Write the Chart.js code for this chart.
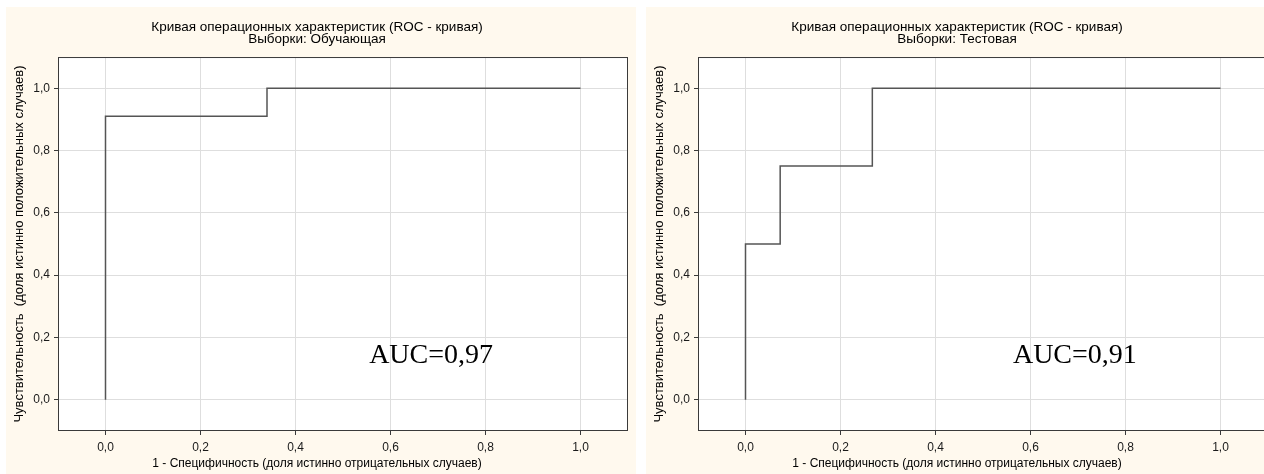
<!DOCTYPE html>
<html>
<head>
<meta charset="utf-8">
<script src="https://cdn.jsdelivr.net/npm/chart.js@4/dist/chart.umd.min.js"></script>
<style>
    body { margin: 0; width: 1264px; height: 474px; overflow: hidden; background: #fff; position: relative; }
    .panel { position: absolute; top: 7px; width: 630px; height: 467px; background: #fff9ee; }
    #leftPanel { left: 6px; }
    #rightPanel { left: 646px; }
</style>
</head>
<body>
<div class="panel" id="leftPanel"><canvas id="trainChart" width="630" height="467"></canvas></div>
<div class="panel" id="rightPanel"><canvas id="testChart" width="630" height="467"></canvas></div>
<script>
// ROC points (1 - specificity, sensitivity), drawn as steps
const trainFpr = [0, 0, 0.34, 1];
const trainTpr = [0, 0.91, 1, 1];
const testFpr = [0, 0, 0.073, 0.267, 1];
const testTpr = [0, 0.5, 0.75, 1, 1];

const xTicks = [0, 0.2, 0.4, 0.6, 0.8, 1.0];
const yTicks = [0, 0.2, 0.4, 0.6, 0.8, 1.0];

const chartTitle = 'Кривая операционных характеристик (ROC - кривая)';
const xTitle = '1 - Специфичность (доля истинно отрицательных случаев)';
const yTitle = 'Чувствительность  (доля истинно положительных случаев)';

Chart.defaults.font.family = '"Liberation Sans", Arial, sans-serif';
Chart.defaults.font.size = 12;
Chart.defaults.color = '#1a1a1a';

const fmt = v => v.toFixed(1).replace('.', ',');

// white plot area, box border and AUC label
const plotFrame = {
    id: 'plotFrame',
    beforeDraw(chart) {
        const { ctx, chartArea: a } = chart;
        ctx.save();
        ctx.fillStyle = '#ffffff';
        ctx.fillRect(a.left, a.top, a.right - a.left, a.bottom - a.top);
        ctx.restore();
    },
    afterDraw(chart, args, opts) {
        const { ctx, chartArea: a, scales } = chart;
        ctx.save();
        ctx.strokeStyle = '#3a3a3a';
        ctx.lineWidth = 1;
        ctx.strokeRect(a.left + 0.5, a.top + 0.5, a.right - a.left - 1, a.bottom - a.top - 1);
        ctx.fillStyle = '#000';
        ctx.font = '28px "Liberation Serif", "Times New Roman", serif';
        ctx.textBaseline = 'alphabetic';
        ctx.fillText(opts.text, scales.x.getPixelForValue(opts.x), scales.y.getPixelForValue(opts.y));
        ctx.restore();
    }
};

function makeRoc(canvasId, subtitle, fpr, tpr, auc, aucX) {
    const ctx = document.getElementById(canvasId).getContext('2d');
    return new Chart(ctx, {
        type: 'line',
        data: {
            datasets: [{
                data: fpr.map((x, i) => ({ x: x, y: tpr[i] })),
                borderColor: '#555555',
                borderWidth: 1.5,
                pointRadius: 0,
                stepped: 'before',
                fill: false
            }]
        },
        options: {
            responsive: false,
            animation: false,
            layout: { padding: { left: 0, right: 8, top: 0, bottom: 0 } },
            plugins: {
                legend: { display: false },
                tooltip: { enabled: false },
                title: {
                    display: true,
                    text: [chartTitle, subtitle],
                    font: { size: 13.5, weight: 'normal', lineHeight: 0.89 },
                    color: '#000',
                    padding: { top: 14, bottom: 12 }
                },
                subtitle: {
                    display: true,
                    position: 'bottom',
                    text: xTitle,
                    font: { size: 12, lineHeight: 1 },
                    color: '#000',
                    padding: { top: 4, bottom: 4 }
                },
                plotFrame: { text: 'AUC=' + auc, x: aucX, y: 0.119 }
            },
            scales: {
                x: {
                    type: 'linear',
                    min: -0.1,
                    max: 1.1,
                    afterBuildTicks: s => { s.ticks = xTicks.map(v => ({ value: v })); },
                    afterFit: s => { s.height = 23; },
                    grid: { color: '#dedede', tickColor: '#3a3a3a', tickLength: 4 },
                    border: { display: false },
                    ticks: { padding: 5, maxRotation: 0, callback: v => fmt(v) }
                },
                y: {
                    type: 'linear',
                    min: -0.1,
                    max: 1.1,
                    afterBuildTicks: s => { s.ticks = yTicks.map(v => ({ value: v })); },
                    afterFit: s => { s.width = 52; },
                    grid: { color: '#dedede', tickColor: '#3a3a3a', tickLength: 4 },
                    border: { display: false },
                    ticks: { padding: 4, callback: v => fmt(v) },
                    title: {
                        display: true,
                        text: yTitle,
                        color: '#000',
                        font: { size: 13, lineHeight: 1 },
                        padding: { top: 7, bottom: 0 }
                    }
                }
            }
        },
        plugins: [plotFrame]
    });
}

makeRoc('trainChart', 'Выборки: Обучающая', trainFpr, trainTpr, '0,97', 0.555);
makeRoc('testChart', 'Выборки: Тестовая', testFpr, testTpr, '0,91', 0.563);
</script>
</body>
</html>
